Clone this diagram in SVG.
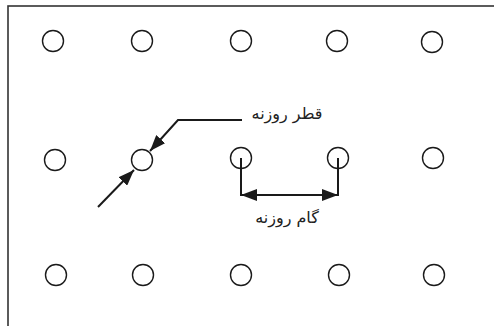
<svg xmlns="http://www.w3.org/2000/svg" width="494" height="326" viewBox="0 0 494 326">
<style>
.hole{fill:none;stroke:#1a1a1a;stroke-width:1.4}
.ln{fill:none;stroke:#1a1a1a;stroke-width:2}
.lbl{font-family:"DejaVu Sans",sans-serif;font-size:16px;fill:#222;text-anchor:middle}
</style>
<defs>
<marker id="ah" viewBox="0 0 16 12" refX="16" refY="6" markerWidth="16" markerHeight="12" markerUnits="userSpaceOnUse" orient="auto-start-reverse">
<path d="M0,0 L16,6 L0,12 Z" fill="#1a1a1a"/>
</marker>
</defs>
<rect x="8" y="6" width="500" height="340" fill="#fff" stroke="#333" stroke-width="1.6"/>
<g id="r1c1"><circle class="hole" cx="53" cy="41" r="10.5"/></g>
<g id="r1c2"><circle class="hole" cx="142" cy="41" r="10.5"/></g>
<g id="r1c3"><circle class="hole" cx="241" cy="41" r="10.5"/></g>
<g id="r1c4"><circle class="hole" cx="337" cy="41" r="10.5"/></g>
<g id="r1c5"><circle class="hole" cx="432" cy="42" r="10.5"/></g>
<g id="r2c1"><circle class="hole" cx="55" cy="160" r="10.5"/></g>
<g id="r2c2"><circle class="hole" cx="142" cy="160" r="10.5"/></g>
<g id="r2c3"><circle class="hole" cx="241" cy="158" r="10.5"/></g>
<g id="r2c4"><circle class="hole" cx="338" cy="158" r="10.5"/></g>
<g id="r2c5"><circle class="hole" cx="433" cy="158" r="10.5"/></g>
<g id="r3c1"><circle class="hole" cx="56" cy="275" r="10.5"/></g>
<g id="r3c2"><circle class="hole" cx="143" cy="275" r="10.5"/></g>
<g id="r3c3"><circle class="hole" cx="241" cy="275" r="10.5"/></g>
<g id="r3c4"><circle class="hole" cx="339" cy="275" r="10.5"/></g>
<g id="r3c5"><circle class="hole" cx="434" cy="275" r="10.5"/></g>
<g id="connectors">
<polyline class="ln" points="242,120 178,120 150,151" marker-end="url(#ah)"/>
<line class="ln" x1="98" y1="207" x2="134" y2="170" marker-end="url(#ah)"/>
<line class="ln" x1="241" y1="158" x2="241" y2="196"/>
<line class="ln" x1="338" y1="158" x2="338" y2="196"/>
<line class="ln" x1="241" y1="195" x2="338" y2="195" marker-start="url(#ah)" marker-end="url(#ah)"/>
</g>
<g id="labels">
<text class="lbl" x="287" y="119" direction="rtl">قطر روزنه</text>
<text class="lbl" x="287" y="223" direction="rtl">گام روزنه</text>
</g>
</svg>
